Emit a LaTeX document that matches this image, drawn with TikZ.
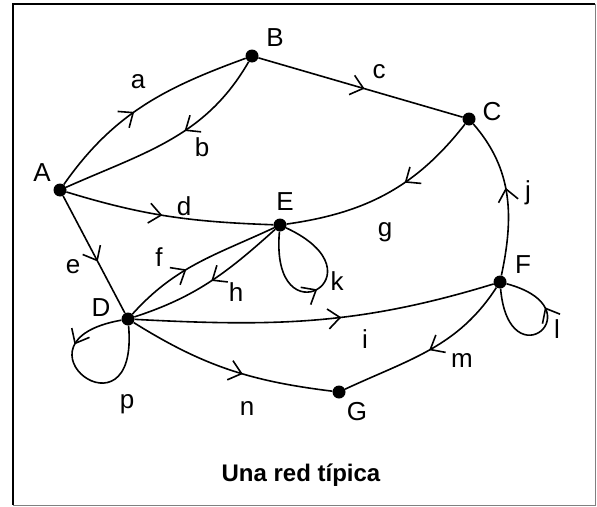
\documentclass[tikz,border=0pt]{standalone}
\usepackage{fontspec}
\setmainfont{Liberation Sans}
\usetikzlibrary{arrows.meta,decorations.markings}

\begin{document}
\begin{tikzpicture}[x=1pt,y=1pt,
    vertex/.style={circle,fill=black,inner sep=0pt,minimum size=13pt},
    lbl/.style={inner sep=0pt,font=\fontsize{26}{30}\selectfont},
    edge/.style={line width=1.6pt},
    mid/.style={postaction={decorate},decoration={markings,
        mark=at position #1 with {\arrow{Straight Barb[length=12pt,width=20pt,line width=1.6pt]}}}}]
    \useasboundingbox (0,0) rectangle (597,-506);
    \draw[line width=2pt] (13,-505) -- (13,-4) -- (595,-4);
    \draw[gray,line width=1pt] (595,-4) -- (595,-505) -- (13,-505);

    \node[vertex] (A) at (60,-190) {};
    \node[vertex] (B) at (252,-56) {};
    \node[vertex] (C) at (469,-119) {};
    \node[vertex] (E) at (280,-225) {};
    \node[vertex] (D) at (128,-319) {};
    \node[vertex] (F) at (500,-282) {};
    \node[vertex] (G) at (339,-392) {};

    \node[lbl] (tA) at (42,-173) {A};
    \node[lbl] (tB) at (275,-38) {B};
    \node[lbl] (tC) at (492,-112) {C};
    \node[lbl] (tE) at (285,-202) {E};
    \node[lbl] (tD) at (101,-308) {D};
    \node[lbl] (tF) at (523,-265) {F};
    \node[lbl] (tG) at (357,-412) {G};

    \draw[edge,mid=0.45] (A) to[out=55,in=200] (B);
    \draw[edge,mid=0.42] (B) to[out=240,in=24] (A);
    \draw[edge,mid=0.52] (B) -- (C);
    \draw[edge,mid=0.47] (A) to[out=-17,in=178] (E);
    \draw[edge,mid=0.56] (A) -- (D);
    \draw[edge,mid=0.42] (D) to[out=48,in=205] (E);
    \draw[edge,mid=0.49] (E) to[out=222,in=18] (D);
    \draw[edge,mid=0.4] (C) to[out=232,in=8] (E);
    \draw[edge,mid=0.55] (F) to[out=78,in=-49] (C);
    \draw[edge,mid=0.57] (D) to[out=-3,in=197] (F);
    \draw[edge,mid=0.5] (F) to[out=237,in=25] (G);
    \draw[edge,mid=0.57] (D) to[out=-32,in=173] (G);
    \draw[edge,mid=0.5] (E) to[out=-95,in=-25,distance=112pt] (E);
    \draw[edge,mid=0.68] (F) to[out=-85,in=-15,distance=95pt] (F);
    \draw[edge,mid=0.3] (D) to[out=190,in=-85,distance=122pt] (D);

    \node[lbl] (la) at (138,-82) {a};
    \node[lbl] (lb) at (202,-147) {b};
    \node[lbl] (lc) at (379,-72) {c};
    \node[lbl] (ld) at (184,-206) {d};
    \node[lbl] (le) at (73,-267) {e};
    \node[lbl] (lf) at (159,-257) {f};
    \node[lbl] (lg) at (385,-232) {g};
    \node[lbl] (lh) at (236,-292) {h};
    \node[lbl] (li) at (365,-339) {i};
    \node[lbl] (lj) at (528,-193) {j};
    \node[lbl] (lk) at (337,-281) {k};
    \node[lbl] (ll) at (557,-329) {l};
    \node[lbl] (lm) at (462,-361) {m};
    \node[lbl] (ln) at (247,-408) {n};
    \node[lbl] (lp) at (127,-404) {p};

    \node[anchor=base,font=\fontsize{24}{28}\selectfont\bfseries] (title) at (301,-481) {Una red típica};
\end{tikzpicture}
\end{document}
